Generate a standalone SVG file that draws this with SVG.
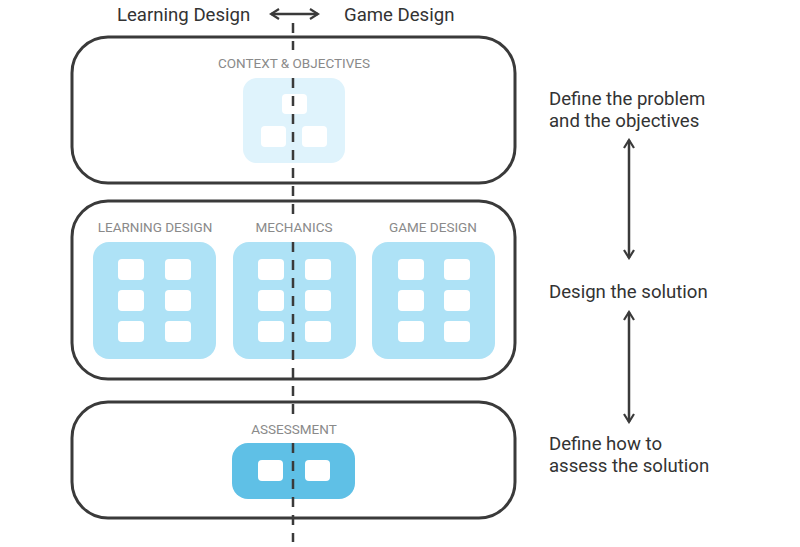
<svg xmlns="http://www.w3.org/2000/svg" width="800" height="547" viewBox="0 0 800 547">
<defs>
<style>
.frame{fill:#fff;stroke:#3a3a3a;stroke-width:3}
.lbl{font-family:Roboto,"Liberation Sans",sans-serif;font-size:13.5px;fill:#8a8a8a;text-anchor:middle}
.txt{font-family:Roboto,"Liberation Sans",sans-serif;font-size:18.6px;fill:#333}
.sq{fill:#fff}
.p1{fill:#dff3fc}
.p2{fill:#aee2f6}
.p3{fill:#5fc0e6}
.ln{stroke:#3a3a3a;stroke-width:2.5;fill:none}
</style>
<marker id="ah" viewBox="0 0 12 12" refX="10" refY="6" markerWidth="12" markerHeight="12" markerUnits="userSpaceOnUse" orient="auto-start-reverse">
<path d="M2,1 L10,6 L2,11" fill="none" stroke="#3a3a3a" stroke-width="2.2"/>
</marker>
</defs>
<rect width="800" height="547" fill="#fff"/>

<g id="header">
<text class="txt" x="117" y="21">Learning Design</text>
<text class="txt" x="344" y="21">Game Design</text>
</g>

<g id="box-context">
<rect class="frame" x="72" y="37" width="443" height="146" rx="36"/>
<text class="lbl" x="294" y="68">CONTEXT &amp; OBJECTIVES</text>
<rect class="p1" x="243" y="78" width="102" height="85" rx="14"/>
<rect class="sq" x="282" y="94" width="25" height="20" rx="4"/>
<rect class="sq" x="261" y="126" width="25" height="21" rx="4"/>
<rect class="sq" x="302" y="126" width="25" height="21" rx="4"/>
</g>

<g id="box-design">
<rect class="frame" x="72" y="201" width="443" height="178" rx="36"/>
<text class="lbl" x="155" y="232">LEARNING DESIGN</text>
<text class="lbl" x="294" y="232">MECHANICS</text>
<text class="lbl" x="433" y="232">GAME DESIGN</text>
<g id="panel-learning">
<rect class="p2" x="93" y="242" width="123" height="117" rx="16"/>
<rect class="sq" x="118" y="259" width="26" height="21" rx="4"/>
<rect class="sq" x="165" y="259" width="26" height="21" rx="4"/>
<rect class="sq" x="118" y="290" width="26" height="21" rx="4"/>
<rect class="sq" x="165" y="290" width="26" height="21" rx="4"/>
<rect class="sq" x="118" y="321" width="26" height="21" rx="4"/>
<rect class="sq" x="165" y="321" width="26" height="21" rx="4"/>
</g>
<g id="panel-mechanics">
<rect class="p2" x="233" y="242" width="123" height="117" rx="16"/>
<rect class="sq" x="258" y="259" width="26" height="21" rx="4"/>
<rect class="sq" x="305" y="259" width="26" height="21" rx="4"/>
<rect class="sq" x="258" y="290" width="26" height="21" rx="4"/>
<rect class="sq" x="305" y="290" width="26" height="21" rx="4"/>
<rect class="sq" x="258" y="321" width="26" height="21" rx="4"/>
<rect class="sq" x="305" y="321" width="26" height="21" rx="4"/>
</g>
<g id="panel-game">
<rect class="p2" x="372" y="242" width="123" height="117" rx="16"/>
<rect class="sq" x="398" y="259" width="26" height="21" rx="4"/>
<rect class="sq" x="444" y="259" width="26" height="21" rx="4"/>
<rect class="sq" x="398" y="290" width="26" height="21" rx="4"/>
<rect class="sq" x="444" y="290" width="26" height="21" rx="4"/>
<rect class="sq" x="398" y="321" width="26" height="21" rx="4"/>
<rect class="sq" x="444" y="321" width="26" height="21" rx="4"/>
</g>
</g>

<g id="box-assessment">
<rect class="frame" x="72" y="402" width="443" height="116" rx="36"/>
<text class="lbl" x="294" y="434">ASSESSMENT</text>
<rect class="p3" x="232" y="443" width="123" height="56" rx="16"/>
<rect class="sq" x="258" y="460" width="25" height="21" rx="4"/>
<rect class="sq" x="305" y="460" width="25" height="21" rx="4"/>
</g>

<g id="steps">
<text class="txt" x="549" y="105">Define the problem</text>
<text class="txt" x="549" y="127">and the objectives</text>
<text class="txt" x="549" y="298">Design the solution</text>
<text class="txt" x="549" y="450">Define how to</text>
<text class="txt" x="549" y="472">assess the solution</text>
</g>

<g id="connectors">
<path class="ln" d="M293,23 V50 M293,78 V215 M293,242 V415 M293,443 V542" stroke-dasharray="10 8"/>
<line class="ln" x1="271" y1="14" x2="318" y2="14" marker-start="url(#ah)" marker-end="url(#ah)"/>
<line class="ln" x1="629" y1="140" x2="629" y2="258" marker-start="url(#ah)" marker-end="url(#ah)"/>
<line class="ln" x1="629" y1="312" x2="629" y2="422" marker-start="url(#ah)" marker-end="url(#ah)"/>
</g>
</svg>
